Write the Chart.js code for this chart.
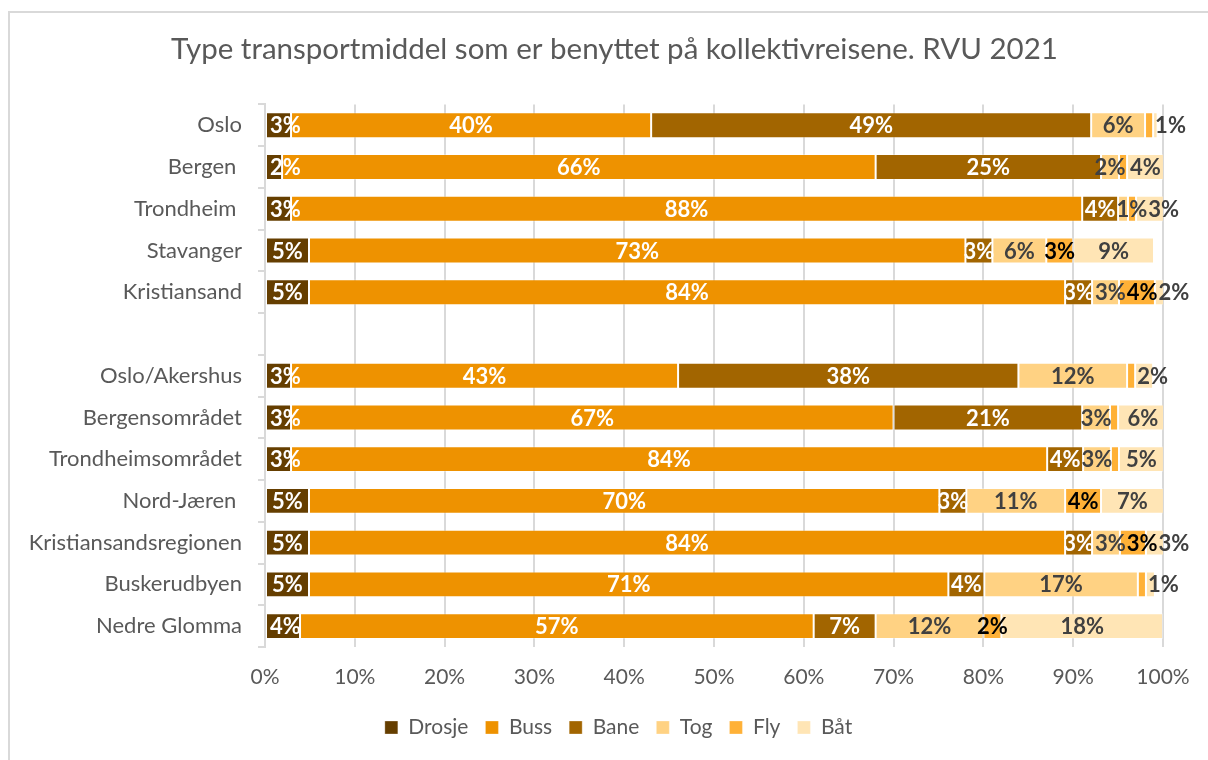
<!DOCTYPE html>
<html lang="no">
<head>
<meta charset="utf-8">
<title>Type transportmiddel – RVU 2021</title>
<script src="https://cdn.jsdelivr.net/npm/chart.js"></script>
<style>
  html, body { margin: 0; padding: 0; background: #fff; }
  #wrap { width: 1208px; height: 760px; }
</style>
</head>
<body>
<div id="wrap"><canvas id="rvuChart" width="1208" height="760"></canvas></div>
<script>
'use strict';

// Andel av kollektivreisene (%) per transportmiddel, lest av figuren
const CATEGORIES = [
  'Oslo', 'Bergen ', 'Trondheim ', 'Stavanger', 'Kristiansand', '',
  'Oslo/Akershus', 'Bergensområdet', 'Trondheimsområdet', 'Nord-Jæren ',
  'Kristiansandsregionen', 'Buskerudbyen', 'Nedre Glomma',
];
const DROSJE = [2.9, 1.9, 2.9, 4.9, 4.9, null, 2.9, 2.9, 2.9, 4.9, 4.9, 4.9, 3.9];
const BUSS = [40.1, 66.1, 88.1, 73.1, 84.2, null, 43.1, 67.1, 84.2, 70.2, 84.2, 71.2, 57.2];
const BANE = [49.0, 25.1, 4.0, 3.0, 3.0, null, 37.9, 21.0, 4.0, 3.0, 3.0, 4.0, 6.9];
const TOG = [6.0, 2.0, 1.1, 6.0, 3.0, null, 12.1, 3.1, 3.1, 11.0, 3.1, 17.1, 12.0];
const FLY = [0.9, 0.9, 0.9, 3.0, 4.0, null, 0.9, 0.9, 0.9, 4.0, 2.9, 0.9, 2.0];
const BAAT = [0.5, 4.1, 3.1, 9.0, 1.5, null, 2.0, 5.5, 5.0, 7.0, 2.5, 1.0, 18.0];

const SERIES_NAMES = ['Drosje', 'Buss', 'Bane', 'Tog', 'Fly', 'Båt'];
const X_MAX = 100;
const X_STEP = 10;

const FONT = 'Lato, "Open Sans", sans-serif';
const TEXT_GRAY = '#595959';
const GRID_GRAY = '#d9d9d9';

const SERIES_COLORS = ['#653e00', '#ee9200', '#a26500', '#ffd283', '#ffb137', '#ffe5b5'];
const LABEL_COLORS = ['#ffffff', '#ffffff', '#ffffff', '#404040', '#000000', '#404040'];

// ramme rundt diagramområdet (bare venstre og øvre kant er synlig)
const frame = {
  id: 'frame',
  beforeDraw(chart) {
    const { ctx, width, height } = chart;
    ctx.save();
    ctx.strokeStyle = GRID_GRAY;
    ctx.lineWidth = 2;
    ctx.beginPath();
    ctx.moveTo(9, height + 2);
    ctx.lineTo(9, 12);
    ctx.lineTo(width + 2, 12);
    ctx.stroke();
    ctx.restore();
  },
};

// tittel og tegnforklaring er sentrert i hele diagramrammen, ikke bare til venstre for aksen
const recenter = {
  id: 'recenter',
  afterLayout(chart) {
    const shifts = [[chart.titleBlock, 28], [chart.legend, 32]];
    shifts.forEach(([box, dx]) => {
      if (!box) return;
      box.left += dx;
      box.right += dx;
    });
  },
};

// dataetiketter midt i hvert segment, skjøvet til siden der de ellers overlapper.
// Segmenter under 1 % får ingen etikett, unntatt det siste segmentet i stolpen.
const segmentLabels = {
  id: 'segmentLabels',
  afterDatasetsDraw(chart) {
    const { ctx, chartArea } = chart;
    ctx.save();
    ctx.font = 'bold 22px ' + FONT;
    ctx.textBaseline = 'middle';
    ctx.textAlign = 'left';

    chart.data.labels.forEach((_, i) => {
      const segs = [];
      chart.data.datasets.forEach((ds, d) => {
        const v = ds.data[i];
        if (v == null || v <= 0) return;
        const bar = chart.getDatasetMeta(d).data[i];
        const p = bar.getProps(['x', 'y', 'base'], true);
        segs.push({
          v,
          text: Math.round(v) + '%',
          color: LABEL_COLORS[d],
          x0: Math.min(p.base, p.x),
          x1: Math.max(p.base, p.x),
          y: p.y,
        });
      });
      const items = segs.filter((s, k) => s.v >= 1 || k === segs.length - 1);

      let prevRight = chartArea.left + 4;
      items.forEach((it, k) => {
        const w = ctx.measureText(it.text).width;
        let left = (it.x0 + it.x1) / 2 - w / 2;
        if (k === items.length - 1 && w > it.x1 - it.x0) {
          left = Math.max(left, it.x0 + 2);
        }
        left = Math.max(left, prevRight + 1);
        ctx.fillStyle = it.color;
        ctx.fillText(it.text, left, it.y + 1);
        prevRight = left + w;
      });
    });
    ctx.restore();
  },
};

const seriesData = [DROSJE, BUSS, BANE, TOG, FLY, BAAT];

const datasets = SERIES_NAMES.map((name, idx) => ({
  label: name,
  data: seriesData[idx],
  backgroundColor: SERIES_COLORS[idx],
  borderColor: 'rgba(255,255,255,0.3)',
  borderWidth: 1,
  borderSkipped: false,
  barPercentage: 0.62,
  categoryPercentage: 1,
}));

const chartConfig = {
  type: 'bar',
  data: { labels: CATEGORIES, datasets },
  options: {
    indexAxis: 'y',
    responsive: false,
    animation: false,
    devicePixelRatio: 1,
    layout: {
      padding: { top: 12, left: 10, right: 45, bottom: 12 },
    },
    scales: {
      x: {
        stacked: true,
        min: 0,
        max: X_MAX,
        ticks: {
          stepSize: X_STEP,
          callback: (v) => v + '%',
          color: TEXT_GRAY,
          font: { family: FONT, size: 21 },
          padding: 18,
        },
        grid: { color: GRID_GRAY, lineWidth: 2, drawTicks: false },
        border: { display: false },
        afterFit: (scale) => { scale.height = 53; },
      },
      y: {
        stacked: true,
        grid: {
          drawOnChartArea: false,
          drawTicks: true,
          tickLength: 7,
          color: GRID_GRAY,
          lineWidth: 2,
        },
        border: { color: GRID_GRAY, width: 2 },
        ticks: {
          autoSkip: false,
          color: TEXT_GRAY,
          font: { family: FONT, size: 22 },
          padding: 16,
        },
        afterFit: (scale) => { scale.width = 255; },
      },
    },
    plugins: {
      title: {
        display: true,
        text: 'Type transportmiddel som er benyttet på kollektivreisene. RVU 2021',
        color: TEXT_GRAY,
        font: { family: FONT, size: 29.5, weight: 'normal' },
        padding: { top: 20, bottom: 37 },
      },
      legend: {
        position: 'bottom',
        labels: {
          boxWidth: 13,
          boxHeight: 13,
          padding: 17,
          color: TEXT_GRAY,
          font: { family: FONT, size: 21 },
        },
      },
      tooltip: { enabled: false },
    },
  },
  plugins: [frame, recenter, segmentLabels],
};

new Chart(document.getElementById('rvuChart'), chartConfig);
</script>
</body>
</html>
